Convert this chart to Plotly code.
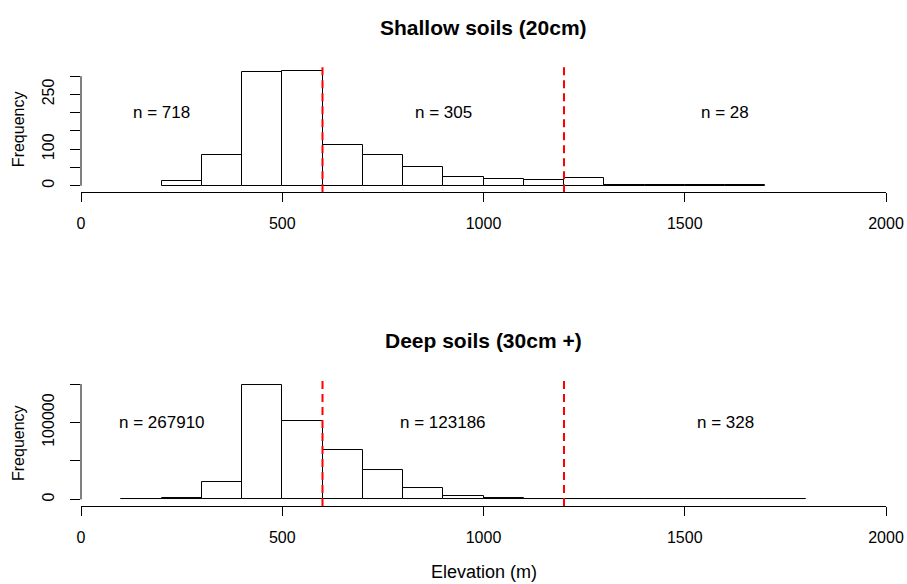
import plotly.graph_objects as go

# ---------------- data ----------------
bin_width = 100
shallow_bin_starts = [200, 300, 400, 500, 600, 700, 800, 900, 1000, 1100, 1200, 1300, 1400, 1500, 1600]
shallow_counts = [12, 85, 310, 314, 112, 85, 50, 25, 19, 16, 21, 3, 2, 1, 1]

deep_bin_starts = [100, 200, 300, 400, 500, 600, 700, 800, 900, 1000, 1100, 1200, 1300, 1400, 1500, 1600, 1700]
deep_counts = [400, 1700, 22000, 148300, 101300, 64650, 38800, 15100, 3900, 1700, 700, 150, 80, 50, 25, 15, 8]

thresholds = [600, 1200]
label_x = [200, 900, 1600]
shallow_labels = ["n = 718", "n = 305", "n = 28"]
deep_labels = ["n = 267910", "n = 123186", "n = 328"]
shallow_label_y = 200
deep_label_y = 100000

x_ticks = [0, 500, 1000, 1500, 2000]
shallow_yticks = [0, 50, 100, 150, 200, 250, 300]
shallow_yticktext = ["0", "", "100", "", "", "250", ""]
deep_yticks = [0, 50000, 100000, 150000]
deep_yticktext = ["0", "", "100000", ""]

titles = ["Shallow soils (20cm)", "Deep soils (30cm +)"]
x_title = "Elevation (m)"
y_title = "Frequency"

FONT = "Liberation Sans, Arial, Helvetica, sans-serif"

# ---------------- figure ----------------
fig = go.Figure()


def centers(starts):
    return [s + bin_width / 2 for s in starts]


fig.add_trace(go.Bar(x=centers(shallow_bin_starts), y=shallow_counts, width=bin_width,
                     marker=dict(color="white", line=dict(color="black", width=1)),
                     xaxis="x", yaxis="y", showlegend=False, hoverinfo="skip"))
fig.add_trace(go.Bar(x=centers(deep_bin_starts), y=deep_counts, width=bin_width,
                     marker=dict(color="white", line=dict(color="black", width=1)),
                     xaxis="x2", yaxis="y2", showlegend=False, hoverinfo="skip"))

shapes = []
for xr, yr, yt in (("x", "y", shallow_yticks), ("x2", "y2", deep_yticks)):
    for t in thresholds:
        shapes.append(dict(type="line", xref=xr, yref=yr + " domain", x0=t, x1=t, y0=0, y1=1,
                           line=dict(color="#ff0000", width=2, dash="8px,5px")))
    # R-style y axis line spanning only the tick range
    shapes.append(dict(type="line", xref=xr + " domain", yref=yr, x0=0, x1=0, y0=yt[0], y1=yt[-1],
                       line=dict(color="black", width=1)))

annotations = []
for x, txt in zip(label_x, shallow_labels):
    annotations.append(dict(x=x, y=shallow_label_y, xref="x", yref="y", text=txt, showarrow=False,
                            font=dict(size=17, color="black", family=FONT)))
for x, txt in zip(label_x, deep_labels):
    annotations.append(dict(x=x, y=deep_label_y, xref="x2", yref="y2", text=txt, showarrow=False,
                            font=dict(size=17, color="black", family=FONT)))

annotations.append(dict(x=0.5, y=1.0911, xref="paper", yref="paper", text="<b>%s</b>" % titles[0],
                        showarrow=False, yanchor="middle", font=dict(size=21, color="black", family=FONT)))
annotations.append(dict(x=0.5, y=0.3759, xref="paper", yref="paper", text="<b>%s</b>" % titles[1],
                        showarrow=False, yanchor="middle", font=dict(size=21, color="black", family=FONT)))
annotations.append(dict(x=0.5, y=-0.150, xref="paper", yref="paper", text=x_title,
                        showarrow=False, yanchor="middle", font=dict(size=18, color="black", family=FONT)))
for yr in ("y", "y2"):
    annotations.append(dict(x=0, y=0.5, xref="paper", yref=yr + " domain", xshift=-62.5,
                            text=y_title, textangle=-90, showarrow=False, xanchor="center", yanchor="middle",
                            font=dict(size=16, color="black", family=FONT)))

xaxis_common = dict(range=[0, 2000], tickvals=x_ticks, ticks="outside", ticklen=9, tickwidth=1,
                    tickcolor="black", showline=True, linecolor="black", linewidth=1,
                    showgrid=False, zeroline=False, tickfont=dict(size=16, color="black", family=FONT),
                    ticklabelstandoff=8, fixedrange=True, automargin=False)
yaxis_common = dict(ticks="outside", ticklen=10, tickwidth=1, tickcolor="black", showline=False,
                    showgrid=False, zeroline=False, tickangle=-90,
                    tickfont=dict(size=16, color="black", family=FONT), ticklabelstandoff=10,
                    fixedrange=True, automargin=False)

fig.update_layout(
    width=907, height=584,
    margin=dict(l=81, r=21, t=67, b=78, autoexpand=False),
    paper_bgcolor="white", plot_bgcolor="white",
    bargap=0, showlegend=False,
    font=dict(family=FONT, color="black"),
    xaxis=dict(domain=[0, 1], anchor="y", **xaxis_common),
    yaxis=dict(domain=[0.7146, 1], anchor="x", range=[-18, 325], tickvals=shallow_yticks,
               ticktext=shallow_yticktext, **yaxis_common),
    xaxis2=dict(domain=[0, 1], anchor="y2", **xaxis_common),
    yaxis2=dict(domain=[0, 0.2847], anchor="x2", range=[-8560, 153900], tickvals=deep_yticks,
                ticktext=deep_yticktext, **yaxis_common),
    shapes=shapes,
    annotations=annotations,
)

fig.write_html("out.html", config={"displayModeBar": False},
               post_script="document.body.style.margin='0';document.body.style.overflow='hidden';")
